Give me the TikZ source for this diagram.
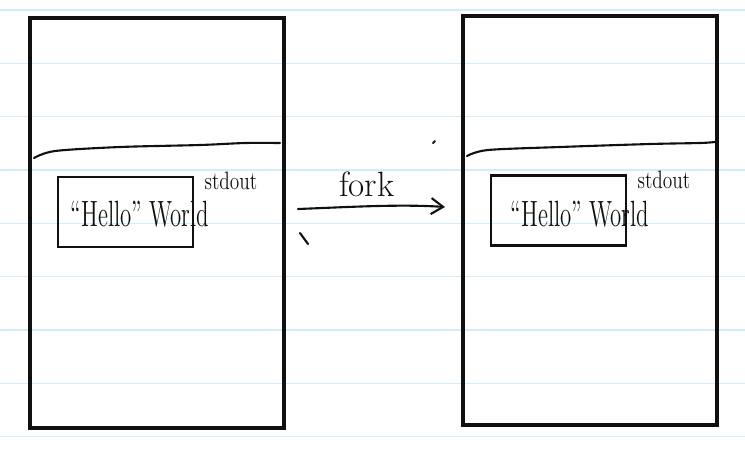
\documentclass[tikz,border=0pt]{standalone}
\usepackage{xcolor}
\usepackage{graphicx}
\usepackage{tikz}
\usetikzlibrary{positioning, arrows.meta}
\definecolor{ruleblue}{HTML}{D4ECF7}
\definecolor{inkblack}{HTML}{101010}

\begin{document}
\begin{tikzpicture}[
    x=0.02cm, y=-0.02cm,
    rule/.style={draw=ruleblue, line width=0.7pt},
    phone/.style={draw=inkblack, line width=2.3pt, minimum width=5.08cm,
                  minimum height=8.2cm, inner sep=0pt},
    ink/.style={draw=inkblack, line width=1.2pt, line cap=round, line join=round},
    msgbox/.style={draw=inkblack, line width=1.2pt, minimum width=2.7cm,
                   minimum height=1.4cm, inner sep=0pt},
    msg/.style={font=\fontsize{13}{13}\selectfont, text=inkblack, inner sep=0pt},
    smalltxt/.style={font=\fontsize{11}{11}\selectfont, text=inkblack, inner sep=0pt},
    arr/.style={ink, -{Straight Barb[length=2.4mm, width=3.2mm]}},
    edgelbl/.style={font=\fontsize{20}{20}\selectfont, text=inkblack, inner sep=1pt},
]
\useasboundingbox (0,0) rectangle (745,454);

% Ruled paper
\foreach \k in {0,...,8}
  \draw[rule] (0,10+53.33*\k) -- (745,10+53.33*\k);

% Parent process (left)
\node[phone] (phoneL) at (157,223) {};
\draw[ink] plot[smooth] coordinates {(34,158) (55,151) (120,147) (200,145) (245,143) (280,143)};
\node[msgbox] (bufL) at (125.5,212) {};
\node[msg] (msgL) at (140,214) {\scalebox{1}[1.6]{``Hello'' World}};
\node[smalltxt] (outL) at (231,181) {\scalebox{1}[1.3]{stdout}};

% Child process (right)
\node[phone] (phoneR) at (590,220.5) {};
\draw[ink] plot[smooth] coordinates {(467,156) (488,150) (560,147) (650,144) (700,143) (715,142)};
\node[msgbox] (bufR) at (558.5,210.5) {};
\node[msg] (msgR) at (580,214) {\scalebox{1}[1.6]{``Hello'' World}};
\node[smalltxt] (outR) at (664,180) {\scalebox{1}[1.3]{stdout}};

% fork arrow
\coordinate (forkS) at (298,209);
\coordinate (forkE) at (445,207);
\draw[arr] (forkS) .. controls (350,207) and (400,204) .. (forkE)
  node[edgelbl, pos=0.45, above=4pt] (forkLbl) {fork};

% Stray pen marks
\draw[ink] (300,233) -- (308,244);
\draw[ink] (433,143) -- (435,141);
\end{tikzpicture}
\end{document}
